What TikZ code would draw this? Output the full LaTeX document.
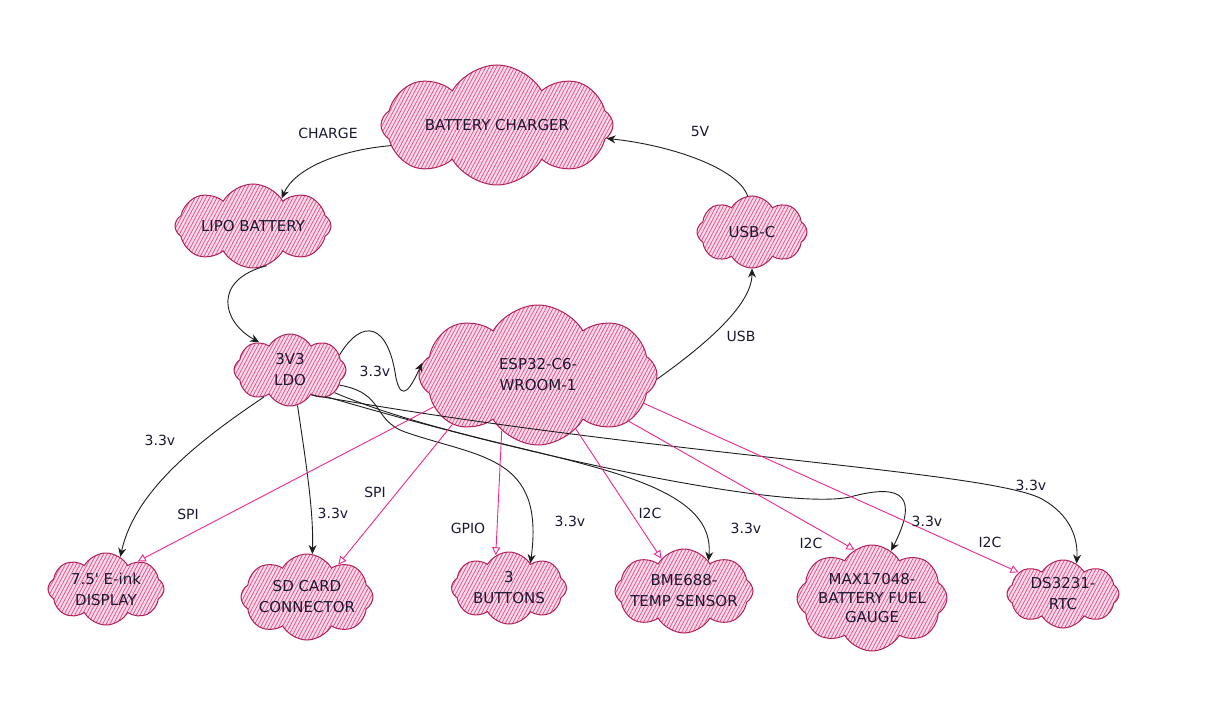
\documentclass[tikz,border=0pt]{standalone}
\usepackage{fontspec}
\setmainfont{DejaVu Sans}
\usetikzlibrary{shapes.symbols,patterns.meta,arrows.meta}
\definecolor{cborder}{RGB}{176,32,92}
\definecolor{chatch}{RGB}{228,80,145}
\definecolor{cfill}{RGB}{252,218,232}
\definecolor{cpink}{RGB}{240,40,140}
\definecolor{cblack}{RGB}{30,30,30}
\definecolor{ctext}{RGB}{25,25,50}
\tikzset{
  blob/.style={cloud, cloud puffs=8, cloud puff arc=120, cloud ignores aspect,
    draw=cborder, line width=1pt,
    preaction={fill=cfill},
    pattern={Lines[angle=62,distance=3.2pt,line width=0.75pt]}, pattern color=chatch,
    inner xsep=-30pt, inner ysep=-8pt, align=center, text=ctext,
    font=\fontsize{15}{21}\selectfont},
  pw/.style={draw=cblack, line width=0.9pt, -{Stealth[length=9pt,width=8pt]}},
  sig/.style={draw=cpink, line width=0.9pt, -{Triangle[open,length=8pt,width=8pt]}},
  lbl/.style={text=ctext, font=\fontsize{14}{16}\selectfont, inner sep=1pt}
}
\begin{document}
\begin{tikzpicture}[x=1pt,y=-1pt]
\useasboundingbox[fill=white] (0,0) rectangle (1224,708);
% clouds
\node[blob, minimum width=232pt, minimum height=120pt] (chg) at (497,125) {BATTERY CHARGER};
\node[blob, minimum width=156pt, minimum height=84pt] (lipo) at (253,226) {LIPO BATTERY};
\node[blob, minimum width=110pt, minimum height=72pt] (usbc) at (752,232) {USB-C};
\node[blob, minimum width=112pt, minimum height=72pt] (ldo) at (290,370) {3V3\\LDO};
\node[blob, minimum width=238pt, minimum height=140pt] (esp) at (538,375) {ESP32-C6-\\WROOM-1};
\node[blob, minimum width=116pt, minimum height=72pt] (eink) at (106,589) {7.5\textquotesingle{} E-ink\\DISPLAY};
\node[blob, minimum width=132pt, minimum height=86pt] (sd) at (307,597) {SD CARD\\CONNECTOR};
\node[blob, minimum width=115pt, minimum height=72pt] (btn) at (509,588) {3\\BUTTONS};
\node[blob, minimum width=138pt, minimum height=84pt] (bme) at (684,591) {BME688-\\TEMP SENSOR};
\node[blob, minimum width=150pt, minimum height=106pt, font=\fontsize{15}{19}\selectfont] (max) at (872,598) {MAX17048-\\BATTERY FUEL\\GAUGE};
\node[blob, minimum width=112pt, minimum height=68pt] (ds) at (1063,594) {DS3231-\\RTC};
% power / black connectors
\draw[pw] (chg.191) .. controls (340,150) and (295,168) .. (lipo.44);
\draw[pw] (usbc.97) .. controls (738,168) and (670,145) .. (chg.-7);
\draw[pw] (lipo.-71) .. controls (212,280) and (222,322) .. (ldo.138);
\draw[pw] (ldo.17) .. controls (362,318) and (388,322) .. (396,378)
      .. controls (402,405) and (412,385) .. (esp.174);
\draw[pw] (esp.-2) .. controls (705,345) and (752,305) .. (usbc.-90);
\draw[pw] (ldo.-134) .. controls (200,440) and (135,490) .. (eink.66);
\draw[pw] (ldo.-78) .. controls (304,450) and (314,510) .. (sd.83);
\draw[pw] (ldo.-17) .. controls (385,393) and (372,420) .. (405,432)
      .. controls (480,458) and (545,455) .. (btn.49);
\draw[pw] (ldo.-27) .. controls (500,462) and (718,462) .. (bme.51);
\draw[pw] (ldo.-36) .. controls (560,465) and (790,510) .. (850,497)
      .. controls (905,482) and (918,498) .. (max.68);
\draw[pw] (ldo.-50) .. controls (650,455) and (980,470) .. (1040,498)
      .. controls (1072,515) and (1078,540) .. (ds.66);
% signal / pink connectors
\draw[sig] (esp.-163) -- (eink.41);
\draw[sig] (esp.-150) -- (sd.46);
\draw[sig] (esp.-123) -- (btn.112);
\draw[sig] (esp.-55) -- (bme.125);
\draw[sig] (esp.-27) -- (max.110);
\draw[sig] (esp.-15) -- (ds.154);
% labels
\node[lbl] (lcharge) at (328,133) {CHARGE};
\node[lbl] (l5v) at (700,131) {5V};
\node[lbl] (lusb) at (741,336) {USB};
\node[lbl] (l33a) at (375,371) {3.3v};
\node[lbl] (l33b) at (160,440) {3.3v};
\node[lbl] (lspia) at (188,514) {SPI};
\node[lbl] (l33c) at (333,513) {3.3v};
\node[lbl] (lspib) at (375,492) {SPI};
\node[lbl] (lgpio) at (468,528) {GPIO};
\node[lbl] (l33d) at (570,521) {3.3v};
\node[lbl] (li2ca) at (650,513) {I2C};
\node[lbl] (l33e) at (746,528) {3.3v};
\node[lbl] (li2cb) at (811,543) {I2C};
\node[lbl] (l33f) at (927,521) {3.3v};
\node[lbl] (li2cc) at (990,542) {I2C};
\node[lbl] (l33g) at (1031,485) {3.3v};
\end{tikzpicture}
\end{document}
